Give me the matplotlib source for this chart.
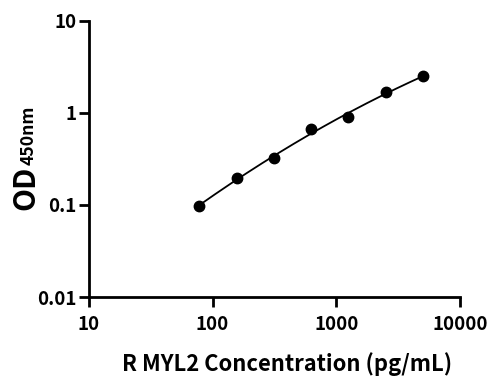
import numpy as np
import matplotlib
matplotlib.use("Agg")
import matplotlib.pyplot as plt
from matplotlib.ticker import FixedLocator, FixedFormatter, NullLocator

plt.rcParams["font.family"] = ["Noto Sans CJK SC", "DejaVu Sans"]
plt.rcParams["font.weight"] = "bold"

# standard curve points
conc = [78.125, 156.25, 312.5, 625, 1250, 2500, 5000]
od = [0.098, 0.194, 0.319, 0.665, 0.891, 1.67, 2.49]

x_ticks = [10, 100, 1000, 10000]
x_labels = ["10", "100", "1000", "10000"]
y_ticks = [0.01, 0.1, 1, 10]
y_labels = ["0.01", "0.1", "1", "10"]

fig = plt.figure(figsize=(4.99, 3.89), dpi=100)
ax = fig.add_axes([0.178, 0.2365, 0.744, 0.7105])

# fitted curve in log-log space
lx = np.log10(conc)
ly = np.log10(od)
coef = np.polyfit(lx, ly, 2)
xs = np.linspace(lx[0], lx[-1], 200)
ax.plot(10 ** xs, 10 ** np.polyval(coef, xs), color="black", linewidth=1.3, zorder=2)
ax.plot(conc, od, "o", color="black", markersize=7.5, zorder=3)

ax.set_xscale("log")
ax.set_yscale("log")
ax.set_xlim(10, 10000)
ax.set_ylim(0.01, 10)
ax.xaxis.set_major_locator(FixedLocator(x_ticks))
ax.xaxis.set_major_formatter(FixedFormatter(x_labels))
ax.yaxis.set_major_locator(FixedLocator(y_ticks))
ax.yaxis.set_major_formatter(FixedFormatter(y_labels))
ax.xaxis.set_minor_locator(NullLocator())
ax.yaxis.set_minor_locator(NullLocator())

for side in ("top", "right"):
    ax.spines[side].set_visible(False)
for side in ("left", "bottom"):
    ax.spines[side].set_linewidth(2)
ax.tick_params(axis="both", which="major", direction="out", length=7, width=2,
               labelsize=13.5, pad=2)
for lab in ax.get_xticklabels() + ax.get_yticklabels():
    lab.set_fontweight("bold")
ax.tick_params(axis="x", pad=6)

ax.set_xlabel("R MYL2 Concentration (pg/mL)", fontsize=15.8, fontweight="bold")
ax.xaxis.set_label_coords(0.534, -0.2)

# y label: large "OD" followed by smaller "450nm" on the same baseline
t1 = fig.text(0.068, 0.46, "OD", rotation=90, rotation_mode="anchor",
              ha="left", va="baseline", fontsize=21.5, fontweight="bold")
fig.canvas.draw()
bb = t1.get_window_extent()
y2 = (bb.y1 + 1) / fig.bbox.height
fig.text(0.068, y2, "450nm", rotation=90, rotation_mode="anchor",
         ha="left", va="baseline", fontsize=12.7, fontweight="bold")

fig.savefig("out.png", dpi=100)
